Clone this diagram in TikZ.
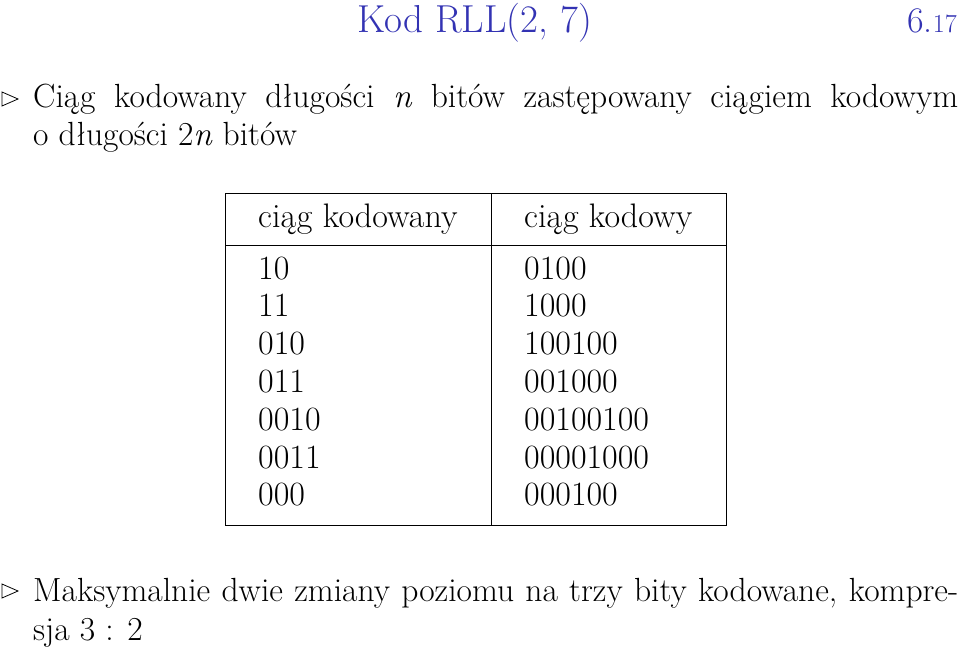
\documentclass[tikz,border=0pt]{standalone}
\usepackage{fontspec}
\definecolor{titleblue}{RGB}{51,51,179}
\tikzset{txt/.style={anchor=base west,inner sep=0pt,font=\fontsize{33.5}{38}\selectfont},
tb/.style={anchor=base west,inner sep=0pt,font=\fontsize{34}{36}\selectfont},
bul/.style={draw,line width=0.8pt}}
\begin{document}
\begin{tikzpicture}[x=1pt,y=-1pt]
\useasboundingbox (0,0) rectangle (960,647);
\node[anchor=base east,inner sep=0pt,text=titleblue,font=\fontsize{39}{44}\selectfont] (title) at (592,33) {Kod RLL(2, 7)};
\node[anchor=base east,inner sep=0pt,text=titleblue,font=\fontsize{36}{40}\selectfont] (num) at (957,33) {6.{\fontsize{26}{28}\selectfont 17}};
\draw[bul] (2,92)--(2,106)--(18,99)--cycle;
\node[txt] (l1) at (33,108) {\makebox[925pt][s]{Ciąg kodowany długości \textit{n} bitów zastępowany ciągiem kodowym}};
\node[txt] (l2) at (33,146) {o długości 2\textit{n} bitów};
\draw[bul] (2,584)--(2,598)--(18,591)--cycle;
\node[txt] (l3) at (33,601) {\makebox[925pt][s]{Maksymalnie dwie zmiany poziomu na trzy bity kodowane, kompre-}};
\node[txt] (l4) at (33,640) {sja 3 : 2};
\draw[line width=1pt] (225,193) rectangle (726,525);
\draw[line width=1pt] (491,193)--(491,525);
\draw[line width=1pt] (225,245)--(726,245);
\node[tb] (h1) at (258,227) {ciąg kodowany};
\node[tb] (h2) at (524,227) {ciąg kodowy};
\foreach \a/\b [count=\i from 0] in {10/0100,11/1000,010/100100,011/001000,0010/00100100,0011/00001000,000/000100}{
 \node[tb] (a\i) at (258,279+37.8*\i) {\a};
 \node[tb] (b\i) at (524,279+37.8*\i) {\b};
}
\end{tikzpicture}
\end{document}
